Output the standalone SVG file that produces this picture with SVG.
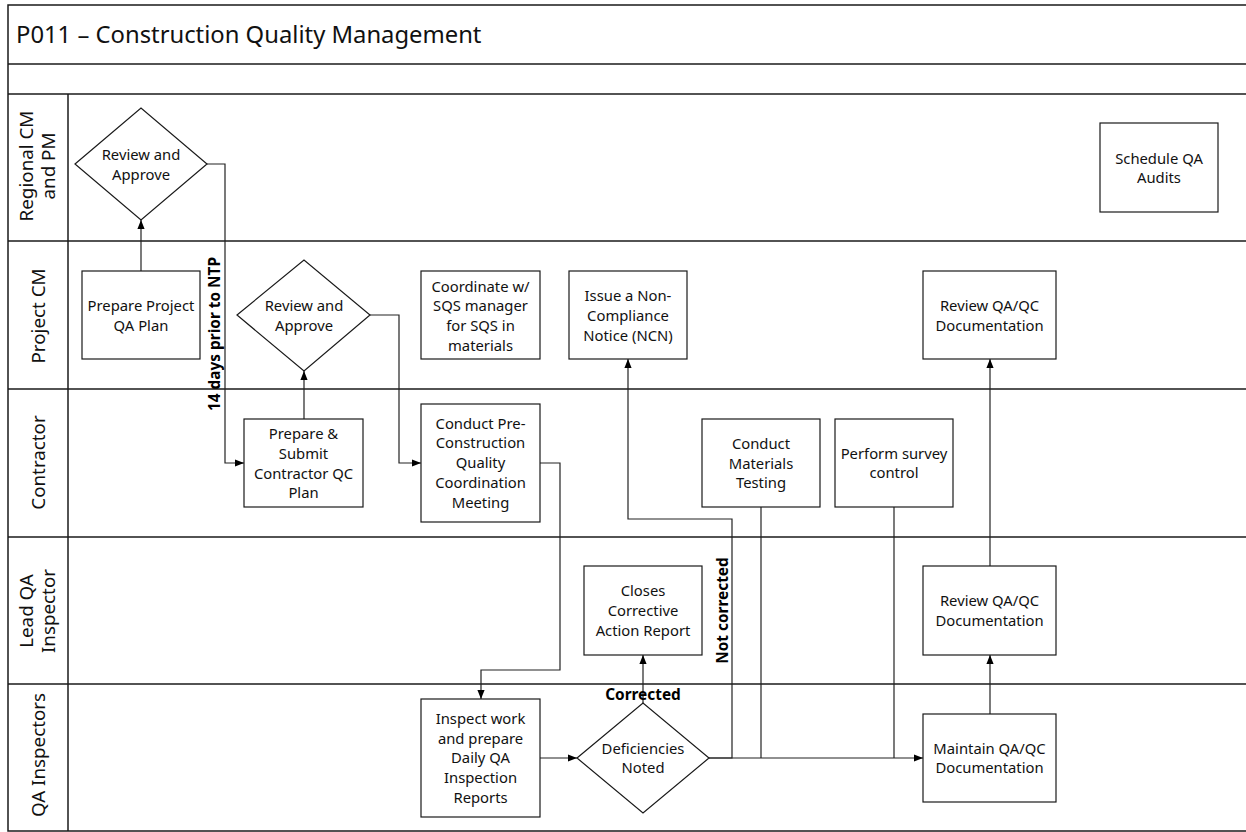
<svg xmlns="http://www.w3.org/2000/svg" width="1246" height="832" viewBox="0 0 1246 832">
<style>
.lane{fill:none;stroke:#1a1a1a;stroke-width:1.5}
.node{fill:#fff;stroke:#1a1a1a;stroke-width:1.2}
.t{font-family:"Segoe UI","Noto Sans","Open Sans",sans-serif;font-size:14.8px;fill:#111;text-anchor:middle}
.lbl{font-family:"Segoe UI","Noto Sans","Open Sans",sans-serif;font-size:18.8px;fill:#111;text-anchor:middle}
.b{font-family:"Segoe UI","Noto Sans","Open Sans",sans-serif;font-size:15.4px;font-weight:bold;fill:#000;text-anchor:middle}
.c{fill:none;stroke:#222;stroke-width:1.2}
.a{marker-end:url(#arr)}
</style>
<defs>
<marker id="arr" viewBox="0 0 10 10" refX="10" refY="5" markerWidth="9" markerHeight="9" markerUnits="userSpaceOnUse" orient="auto"><path d="M0,1 L10,5 L0,9 z" fill="#000"/></marker>
</defs>
<rect x="0" y="0" width="1246" height="832" fill="#fff"/>
<g id="pool">
<rect class="lane" x="8" y="5" width="1250" height="826"/>
<line class="lane" x1="8" y1="64" x2="1258" y2="64"/>
<line class="lane" x1="8" y1="94" x2="1258" y2="94"/>
<line class="lane" x1="8" y1="241" x2="1258" y2="241"/>
<line class="lane" x1="8" y1="389" x2="1258" y2="389"/>
<line class="lane" x1="8" y1="537" x2="1258" y2="537"/>
<line class="lane" x1="8" y1="684" x2="1258" y2="684"/>
<line class="lane" x1="68" y1="94" x2="68" y2="831"/>
<text x="16" y="43" font-family="Segoe UI, Noto Sans, Open Sans, sans-serif" font-size="23.8" fill="#111">P011 – Construction Quality Management</text>
</g>
<g id="lane-labels">
<text class="lbl" transform="translate(33.4,166) rotate(-90)"><tspan x="0" y="0">Regional CM</tspan><tspan x="0" y="21.6">and PM</tspan></text>
<text class="lbl" transform="translate(44.8,316) rotate(-90)">Project CM</text>
<text class="lbl" transform="translate(44.8,462.5) rotate(-90)">Contractor</text>
<text class="lbl" transform="translate(33.4,611) rotate(-90)"><tspan x="0" y="0">Lead QA</tspan><tspan x="0" y="21.6">Inspector</tspan></text>
<text class="lbl" transform="translate(44.8,755) rotate(-90)">QA Inspectors</text>
</g>
<g id="connectors">
<path class="c a" d="M141,271 V220"/>
<path class="c a" d="M207,164 H225 V463 H244"/>
<path class="c a" d="M304,419 V371"/>
<path class="c a" d="M370,315 H399 V463 H421"/>
<path class="c a" d="M540,463 H560 V670 H481 V699"/>
<path class="c a" d="M540,758 H577"/>
<path class="c a" d="M643,703 V655"/>
<path class="c a" d="M709,758 H732 V519 H628 V359"/>
<path class="c a" d="M709,758 H923"/>
<path class="c" d="M761,507 V758"/>
<path class="c" d="M894,507 V758"/>
<path class="c a" d="M990,714 V655"/>
<path class="c a" d="M990,566 V359"/>
<text class="b" transform="translate(220.4,334) rotate(-90)">14 days prior to NTP</text>
<text class="b" transform="translate(728,610.5) rotate(-90)">Not corrected</text>
<text class="b" x="643" y="699.7">Corrected</text>
</g>
<g id="n-review-regional">
<polygon class="node" points="75,164 141,108 207,164 141,220"/>
<text class="t"><tspan x="141" y="160">Review and</tspan><tspan x="141" y="180">Approve</tspan></text>
</g>
<g id="n-schedule-audits">
<rect class="node" x="1100" y="123" width="118" height="89"/>
<text class="t"><tspan x="1159" y="164">Schedule QA</tspan><tspan x="1159" y="183">Audits</tspan></text>
</g>
<g id="n-prepare-qa-plan">
<rect class="node" x="82" y="271" width="118" height="88"/>
<text class="t"><tspan x="141" y="311">Prepare Project</tspan><tspan x="141" y="331">QA Plan</tspan></text>
</g>
<g id="n-review-cm">
<polygon class="node" points="237,315 304,260 370,315 304,371"/>
<text class="t"><tspan x="304" y="311">Review and</tspan><tspan x="304" y="331">Approve</tspan></text>
</g>
<g id="n-coordinate-sqs">
<rect class="node" x="421" y="271" width="119" height="88"/>
<text class="t"><tspan x="480.5" y="291.7">Coordinate w/</tspan><tspan x="480.5" y="311.3">SQS manager</tspan><tspan x="480.5" y="331">for SQS in</tspan><tspan x="480.5" y="350.7">materials</tspan></text>
</g>
<g id="n-issue-ncn">
<rect class="node" x="569" y="271" width="118" height="88"/>
<text class="t"><tspan x="628" y="301">Issue a Non-</tspan><tspan x="628" y="321">Compliance</tspan><tspan x="628" y="341">Notice (NCN)</tspan></text>
</g>
<g id="n-review-docs-cm">
<rect class="node" x="923" y="271" width="133" height="88"/>
<text class="t"><tspan x="989.5" y="311">Review QA/QC</tspan><tspan x="989.5" y="331">Documentation</tspan></text>
</g>
<g id="n-prepare-qc-plan">
<rect class="node" x="244" y="419" width="119" height="88"/>
<text class="t"><tspan x="303.5" y="439">Prepare &amp;</tspan><tspan x="303.5" y="459">Submit</tspan><tspan x="303.5" y="478.5">Contractor QC</tspan><tspan x="303.5" y="498">Plan</tspan></text>
</g>
<g id="n-preconstruction">
<rect class="node" x="421" y="404" width="119" height="118"/>
<text class="t"><tspan x="480.5" y="428.5">Conduct Pre-</tspan><tspan x="480.5" y="448.3">Construction</tspan><tspan x="480.5" y="468.3">Quality</tspan><tspan x="480.5" y="488">Coordination</tspan><tspan x="480.5" y="508">Meeting</tspan></text>
</g>
<g id="n-materials-testing">
<rect class="node" x="702" y="419" width="118" height="88"/>
<text class="t"><tspan x="761" y="449">Conduct</tspan><tspan x="761" y="469">Materials</tspan><tspan x="761" y="488">Testing</tspan></text>
</g>
<g id="n-survey-control">
<rect class="node" x="835" y="419" width="118" height="88"/>
<text class="t"><tspan x="894" y="459">Perform survey</tspan><tspan x="894" y="478">control</tspan></text>
</g>
<g id="n-closes-car">
<rect class="node" x="584" y="566" width="118" height="89"/>
<text class="t"><tspan x="643" y="596">Closes</tspan><tspan x="643" y="616">Corrective</tspan><tspan x="643" y="636">Action Report</tspan></text>
</g>
<g id="n-review-docs-lead">
<rect class="node" x="923" y="566" width="133" height="89"/>
<text class="t"><tspan x="989.5" y="605.5">Review QA/QC</tspan><tspan x="989.5" y="625.5">Documentation</tspan></text>
</g>
<g id="n-inspect-work">
<rect class="node" x="421" y="699" width="119" height="118"/>
<text class="t"><tspan x="480.5" y="724">Inspect work</tspan><tspan x="480.5" y="743.7">and prepare</tspan><tspan x="480.5" y="763">Daily QA</tspan><tspan x="480.5" y="782.7">Inspection</tspan><tspan x="480.5" y="802.7">Reports</tspan></text>
</g>
<g id="n-deficiencies">
<polygon class="node" points="577,758 643,703 709,758 643,813"/>
<text class="t"><tspan x="643" y="753.7">Deficiencies</tspan><tspan x="643" y="773.3">Noted</tspan></text>
</g>
<g id="n-maintain-docs">
<rect class="node" x="923" y="714" width="133" height="88"/>
<text class="t"><tspan x="989.5" y="753.7">Maintain QA/QC</tspan><tspan x="989.5" y="773.3">Documentation</tspan></text>
</g>
</svg>
